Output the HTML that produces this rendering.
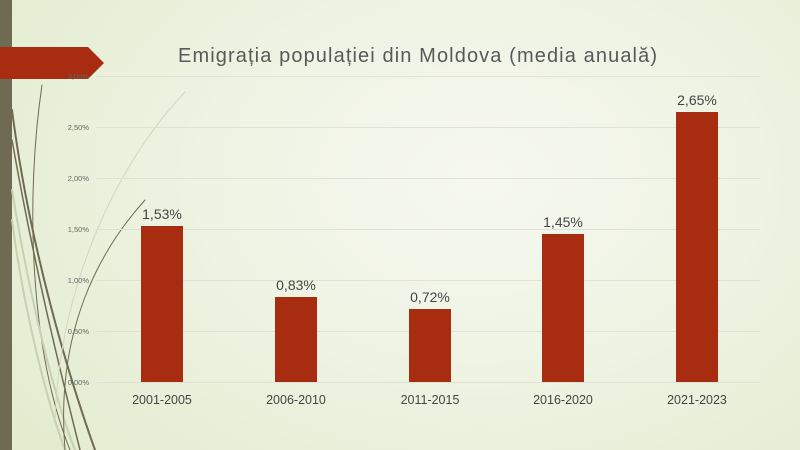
<!DOCTYPE html>
<html><head><meta charset="utf-8"><style>
html,body{margin:0;padding:0}
body{width:800px;height:450px;overflow:hidden;position:relative;font-family:"Liberation Sans",sans-serif;
background:radial-gradient(ellipse 700px 500px at 480px 180px,#f6f8f0 0%,#eef3e2 40%,#dfe9c8 100%);}
</style></head><body>
<svg width="800" height="450" style="position:absolute;left:0;top:0">
<rect x="0" y="0" width="12" height="450" fill="#6f6a52"/>
<g fill="none" stroke-linecap="round">
<path d="M12 110 C30 250 70 380 95 450" stroke="#6f6a52" stroke-width="2"/>
<path d="M12 140 C35 270 60 370 80 450" stroke="#6f6a52" stroke-width="1.5"/>
<path d="M42 85 C25 200 30 350 70 450" stroke="#6f6a52" stroke-width="1"/>
<path d="M12 190 C30 300 55 400 75 450" stroke="#c8d0b0" stroke-width="2"/>
<path d="M12 220 C25 320 50 410 65 450" stroke="#c8d0b0" stroke-width="2"/>
<path d="M145 200 C100 250 55 330 65 450" stroke="#6f6a52" stroke-width="1"/>
<path d="M185 92 C120 160 60 280 55 420" stroke="#d2d6c0" stroke-width="1"/>
</g>
<polygon points="0,47 88,47 104,63 88,79 0,79" fill="#a82c10"/>
<g stroke="#dfe0d8" stroke-width="1">
<line x1="96" x2="760" y1="76.5" y2="76.5"/>
<line x1="96" x2="760" y1="127.5" y2="127.5"/>
<line x1="96" x2="760" y1="178.5" y2="178.5"/>
<line x1="96" x2="760" y1="229.5" y2="229.5"/>
<line x1="96" x2="760" y1="280.5" y2="280.5"/>
<line x1="96" x2="760" y1="331.5" y2="331.5"/>
<line x1="96" x2="760" y1="382.5" y2="382.5"/>
</g>
<g font-size="7.5" fill="#666" text-anchor="end" font-family="Liberation Sans,sans-serif">
<text x="89" y="79">3,00%</text>
<text x="89" y="130">2,50%</text>
<text x="89" y="181">2,00%</text>
<text x="89" y="232">1,50%</text>
<text x="89" y="283">1,00%</text>
<text x="89" y="334">0,50%</text>
<text x="89" y="385">0,00%</text>
</g>
<g fill="#a82c10">
<rect x="141" y="226" width="42" height="156"/>
<rect x="275" y="297" width="42" height="85"/>
<rect x="409" y="309" width="42" height="73"/>
<rect x="542" y="234" width="42" height="148"/>
<rect x="676" y="112" width="42" height="270"/>
</g>
<g font-size="14" fill="#444" text-anchor="middle" font-family="Liberation Sans,sans-serif">
<text x="162" y="219">1,53%</text>
<text x="296" y="290">0,83%</text>
<text x="430" y="302">0,72%</text>
<text x="563" y="227">1,45%</text>
<text x="697" y="105">2,65%</text>
</g>
<g font-size="12.5" fill="#444" text-anchor="middle" font-family="Liberation Sans,sans-serif">
<text x="162" y="404">2001-2005</text>
<text x="296" y="404">2006-2010</text>
<text x="430" y="404">2011-2015</text>
<text x="563" y="404">2016-2020</text>
<text x="697" y="404">2021-2023</text>
</g>
<text x="178" y="62" font-size="20" fill="#595959" textLength="479" lengthAdjust="spacing" font-family="Liberation Sans,sans-serif">Emigrația populației din Moldova (media anuală)</text>
</svg>
</body></html>
